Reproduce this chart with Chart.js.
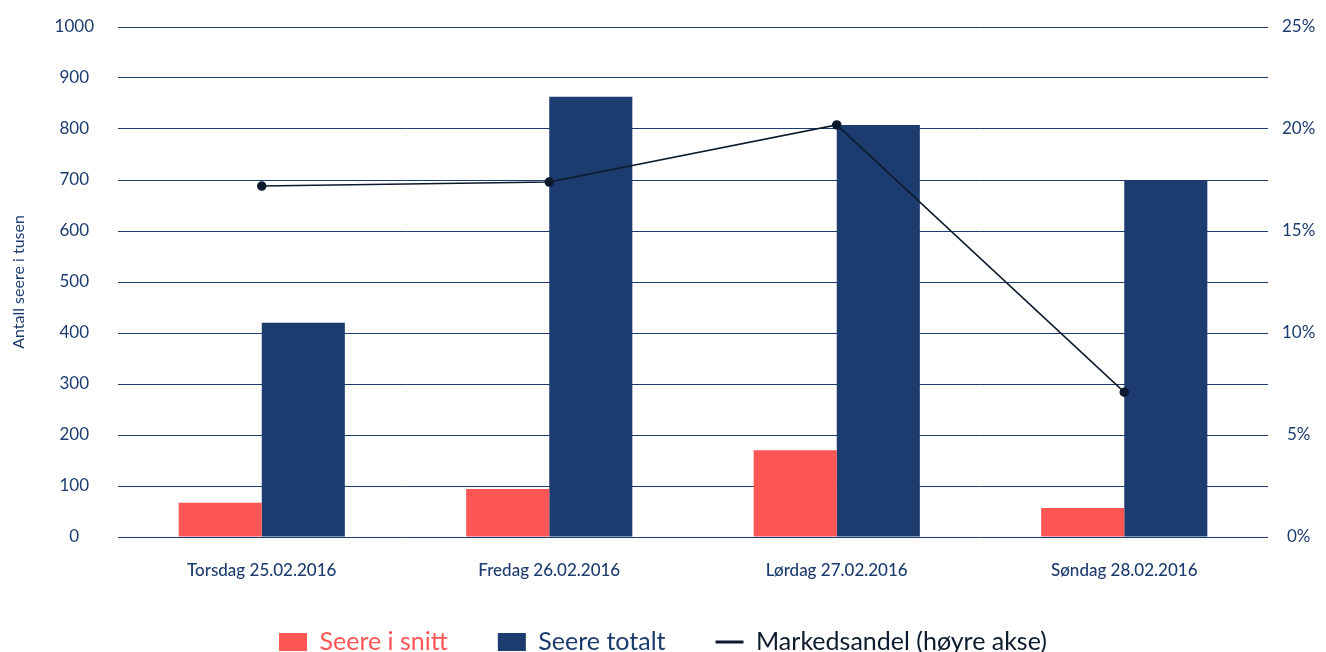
<!DOCTYPE html>
<html lang="no">

<head>
    <meta charset="UTF-8">
    <title>Seere</title>
    <style>
        html, body { margin: 0; padding: 0; background: #ffffff; overflow: hidden; }
        .container-grafico { width: 1326px; height: 663px; }
    </style>
</head>

<body>
    <div class="container-grafico">
        <canvas id="graficoSeere"></canvas>
    </div>
    <script src="https://cdn.jsdelivr.net/npm/chart.js"></script>
    <script>
        const dager = ['Torsdag 25.02.2016', 'Fredag 26.02.2016', 'Lørdag 27.02.2016', 'Søndag 28.02.2016'];
        const seereISnitt = [67, 94, 170, 57];
        const seereTotalt = [420, 863, 808, 699];
        const markedsandel = [17.2, 17.4, 20.2, 7.1];
        const ticksVenstre = [0, 100, 200, 300, 400, 500, 600, 700, 800, 900, 1000];
        const ticksHoyre = [0, 5, 10, 15, 20, 25];

        const rod = '#fe5555';
        const bla = '#1c3b6e';
        const mork = '#0c1a2d';

        const grafico = document.getElementById('graficoSeere').getContext('2d');

        new Chart(grafico, {
            type: 'bar',
            data: {
                labels: dager,
                datasets: [{
                    label: 'Seere i snitt',
                    data: seereISnitt,
                    backgroundColor: rod,
                    yAxisID: 'y',
                    order: 1
                }, {
                    label: 'Seere totalt',
                    data: seereTotalt,
                    backgroundColor: bla,
                    yAxisID: 'y',
                    order: 1
                }, {
                    type: 'line',
                    label: 'Markedsandel (høyre akse)',
                    data: markedsandel,
                    borderColor: mork,
                    backgroundColor: mork,
                    borderWidth: 1.5,
                    pointRadius: 4,
                    pointBackgroundColor: mork,
                    yAxisID: 'y1',
                    order: 0
                }]
            },
            options: {
                responsive: true,
                maintainAspectRatio: false,
                animation: false,
                layout: { padding: { top: 27, bottom: 0, left: 0, right: 0 } },
                datasets: {
                    bar: { categoryPercentage: 0.578, barPercentage: 1 }
                },
                plugins: {
                    tooltip: { enabled: false },
                    legend: {
                        position: 'bottom',
                        maxHeight: 83.5,
                        labels: {
                            usePointStyle: true,
                            pointStyleWidth: 28,
                            boxHeight: 18,
                            padding: 50,
                            font: { family: 'Lato', size: 25 },
                            generateLabels: function (chart) {
                                return chart.data.datasets.map(function (ds, i) {
                                    const ehLinje = ds.type === 'line';
                                    return {
                                        text: ds.label,
                                        fillStyle: ehLinje ? mork : ds.backgroundColor,
                                        strokeStyle: ehLinje ? mork : ds.backgroundColor,
                                        fontColor: ehLinje ? mork : ds.backgroundColor,
                                        lineWidth: ehLinje ? 3 : 0,
                                        pointStyle: ehLinje ? 'line' : 'rect',
                                        hidden: false,
                                        datasetIndex: i
                                    };
                                });
                            }
                        }
                    }
                },
                scales: {
                    x: {
                        grid: { display: false, drawTicks: false },
                        border: { display: false },
                        ticks: {
                            padding: 23,
                            color: bla,
                            font: { family: 'Lato', size: 17, weight: '500' }
                        },
                        afterFit: function (scale) { scale.height = 42.5; }
                    },
                    y: {
                        position: 'left',
                        min: 0,
                        max: 1000,
                        afterBuildTicks: function (scale) {
                            scale.ticks = ticksVenstre.map(function (v) { return { value: v }; });
                        },
                        grid: { color: bla, lineWidth: 1, drawTicks: true, tickLength: 24, tickColor: 'transparent' },
                        border: { display: false },
                        ticks: {
                            padding: 0,
                            crossAlign: 'center',
                            color: bla,
                            font: { family: 'Lato', size: 17 },
                            callback: function (v) { return String(v); }
                        },
                        title: {
                            display: true,
                            text: 'Antall seere i tusen',
                            color: bla,
                            padding: { top: 9, bottom: 0 },
                            font: { family: 'Lato', size: 16 }
                        },
                        afterFit: function (scale) { scale.width = 118; }
                    },
                    y1: {
                        position: 'right',
                        min: 0,
                        max: 25,
                        afterBuildTicks: function (scale) {
                            scale.ticks = ticksHoyre.map(function (v) { return { value: v }; });
                        },
                        grid: { drawOnChartArea: false, drawTicks: true, tickLength: 14, tickColor: 'transparent', color: 'transparent' },
                        border: { display: false },
                        ticks: {
                            padding: 0,
                            crossAlign: 'center',
                            color: bla,
                            font: { family: 'Lato', size: 17 },
                            callback: function (v) { return v + '%'; }
                        },
                        afterFit: function (scale) { scale.width = 58; }
                    }
                }
            }
        });
    </script>
</body>

</html>
